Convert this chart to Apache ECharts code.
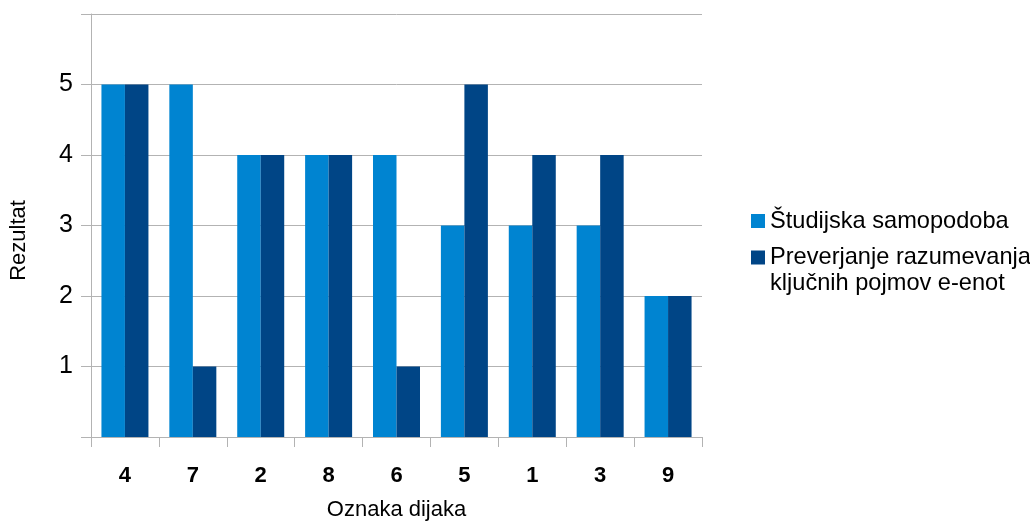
<!DOCTYPE html>
<html>
<head>
<meta charset="utf-8">
<script src="https://cdn.jsdelivr.net/npm/echarts@6/dist/echarts.min.js"></script>
<style>
  html, body { margin: 0; padding: 0; background: #fff; }
  #chart { width: 1030px; height: 522px; }
</style>
</head>
<body>
<div id="chart"></div>
<script>
// Student labels along the x axis
const categories = ['4', '7', '2', '8', '6', '5', '1', '3', '9'];
// Self-assessment scores
const samopodoba = [5, 5, 4, 4, 4, 3, 3, 3, 2];
// Knowledge check scores
const preverjanje = [5, 1, 4, 4, 1, 5, 4, 4, 2];
const seriesNames = ['Študijska samopodoba', 'Preverjanje razumevanja\nključnih pojmov e-enot'];
const yTickLabels = ['1', '2', '3', '4', '5'];

const chart = echarts.init(document.getElementById('chart'));
const font = 'Liberation Sans, Arial, sans-serif';
const gridColor = '#b3b3b3';
const legendLine = 26;
const legendFont = 23.6;

chart.setOption({
  animation: false,
  textStyle: { fontFamily: font },
  grid: { left: 91, right: 328, top: 14, bottom: 85, containLabel: false, outerBoundsMode: 'none' },
  legend: {
    orient: 'vertical',
    left: 751,
    top: 208,
    padding: 0,
    icon: 'rect',
    itemWidth: 14,
    itemHeight: 14,
    itemGap: -15.5,
    // each line goes through rich text so that top padding shifts the block
    formatter: name => name.split('\n').map(l => '{n|' + l + '}').join('\n'),
    textStyle: {
      fontSize: legendFont, color: '#000', fontFamily: font, lineHeight: legendLine,
      rich: { n: { fontSize: legendFont, color: '#000', fontFamily: font, lineHeight: legendLine } }
    },
    data: [
      { name: seriesNames[0] },
      // the extra top padding keeps the swatch beside the first line of the wrapped name
      { name: seriesNames[1], textStyle: { padding: [legendLine, 0, 0, 0] } }
    ]
  },
  xAxis: {
    type: 'category',
    data: categories,
    name: 'Oznaka dijaka',
    nameLocation: 'middle',
    nameGap: 62,
    nameTextStyle: { fontSize: 22, color: '#000' },
    axisLine: { lineStyle: { color: gridColor } },
    axisTick: { show: true, length: 10, interval: 0, lineStyle: { color: gridColor } },
    axisLabel: { fontSize: 22, color: '#000', fontWeight: 'bold', margin: 28 }
  },
  yAxis: {
    type: 'value',
    min: 0,
    max: 6,
    interval: 1,
    name: 'Rezultat',
    nameLocation: 'middle',
    nameGap: 61,
    nameTextStyle: { fontSize: 22, color: '#000', padding: [0, 30, 0, 0] },
    axisLine: { show: true, lineStyle: { color: gridColor } },
    axisTick: { show: true, length: 10, lineStyle: { color: gridColor } },
    splitLine: { lineStyle: { color: gridColor } },
    axisLabel: {
      fontSize: 25,
      color: '#000',
      margin: 18,
      formatter: v => (yTickLabels.includes(String(v)) ? String(v) : '')
    }
  },
  series: [
    {
      name: seriesNames[0],
      type: 'bar',
      data: samopodoba,
      barWidth: 23.5,
      barGap: '0%',
      itemStyle: { color: '#0084d1' }
    },
    {
      name: seriesNames[1],
      type: 'bar',
      data: preverjanje,
      barWidth: 23.5,
      itemStyle: { color: '#004586' }
    }
  ]
});
</script>
</body>
</html>
